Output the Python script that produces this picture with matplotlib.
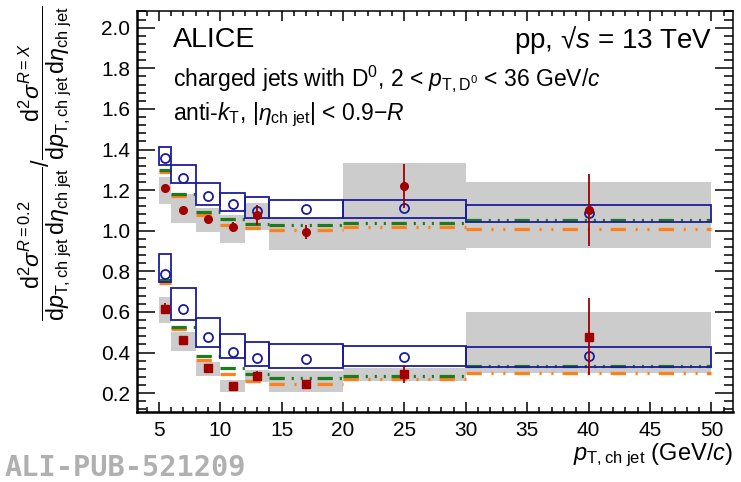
import numpy as np
import matplotlib
matplotlib.use('Agg')
import matplotlib.pyplot as plt
from matplotlib.patches import Rectangle
from matplotlib.ticker import MultipleLocator

plt.rcParams['font.family'] = ['Liberation Sans', 'DejaVu Sans']
plt.rcParams['mathtext.fontset'] = 'custom'
plt.rcParams['mathtext.rm'] = 'Liberation Sans'
plt.rcParams['mathtext.it'] = 'Liberation Sans:italic'
plt.rcParams['mathtext.bf'] = 'Liberation Sans:bold'
plt.rcParams['lines.scale_dashes'] = False

# bins in p_T,ch jet
bin_lo = [5, 6, 8, 10, 12, 14, 20, 30]
bin_hi = [6, 8, 10, 12, 14, 20, 30, 50]
pt = [5.5, 7, 9, 11, 13, 17, 25, 40]

# upper set (circles)
data_up = [1.209, 1.102, 1.058, 1.020, 1.078, 0.993, 1.221, 1.102]
stat_up = [0.02, 0.01, 0.02, 0.025, 0.05, 0.035, 0.11, 0.175]
sys_up_lo = [1.132, 1.037, 0.996, 0.941, 1.004, 0.905, 0.905, 0.914]
sys_up_hi = [1.266, 1.180, 1.111, 1.078, 1.138, 1.062, 1.335, 1.242]
pythia_up = [1.360, 1.258, 1.173, 1.132, 1.099, 1.106, 1.111, 1.089]
pythia_up_lo = [1.324, 1.234, 1.127, 1.098, 1.062, 1.062, 1.062, 1.045]
pythia_up_hi = [1.411, 1.324, 1.234, 1.188, 1.165, 1.152, 1.152, 1.127]
green_up = [1.299, 1.180, 1.094, 1.058, 1.034, 1.029, 1.040, 1.053]
orange_up = [1.288, 1.170, 1.078, 1.029, 1.015, 1.004, 1.020, 1.007]

# lower set (squares)
data_lo = [0.615, 0.462, 0.323, 0.236, 0.285, 0.244, 0.295, 0.479]
stat_lo = [0.027, 0.01, 0.008, 0.008, 0.025, 0.012, 0.045, 0.19]
sys_lo_lo = [0.545, 0.408, 0.285, 0.208, 0.255, 0.205, 0.258, 0.300]
sys_lo_hi = [0.673, 0.503, 0.353, 0.265, 0.315, 0.310, 0.325, 0.598]
pythia_lo = [0.786, 0.615, 0.479, 0.405, 0.372, 0.367, 0.377, 0.385]
pythia_lo_lo = [0.749, 0.561, 0.429, 0.372, 0.334, 0.323, 0.336, 0.331]
pythia_lo_hi = [0.886, 0.720, 0.569, 0.492, 0.454, 0.441, 0.434, 0.426]
green_lo = [0.758, 0.525, 0.385, 0.323, 0.293, 0.274, 0.287, 0.334]
orange_lo = [0.745, 0.515, 0.364, 0.293, 0.260, 0.244, 0.270, 0.301]

RED = '#a00000'
BLUE = '#1c1c9c'
GREEN = '#1e7a1e'
ORANGE = '#ff7f1a'
GRAY = '#cccccc'

green_ls = (0, (11, 5, 1.5, 5, 1.5, 5, 1.5, 4.1))
orange_ls = (0, (11, 7, 1.5, 7, 1.5, 6.6))

fig = plt.figure(figsize=(7.41, 4.82), dpi=100)
ax = fig.add_axes([137/741, (482-412.3)/482, (733-137)/741, (412.3-11)/482])

for d, s, slo, shi, py, plo, phi, g, o, mk in [
        (data_up, stat_up, sys_up_lo, sys_up_hi, pythia_up, pythia_up_lo, pythia_up_hi, green_up, orange_up, 'o'),
        (data_lo, stat_lo, sys_lo_lo, sys_lo_hi, pythia_lo, pythia_lo_lo, pythia_lo_hi, green_lo, orange_lo, 's')]:
    for i in range(len(pt)):
        w = bin_hi[i] - bin_lo[i]
        ax.add_patch(Rectangle((bin_lo[i], slo[i]), w, shi[i] - slo[i],
                               facecolor=GRAY, edgecolor='none', zorder=1))
    ax.hlines(o, bin_lo, bin_hi, colors=ORANGE, linewidth=2.3, linestyles=[orange_ls], zorder=2)
    ax.hlines(g, bin_lo, bin_hi, colors=GREEN, linewidth=2.3, linestyles=[green_ls], zorder=3)
    for i in range(len(pt)):
        w = bin_hi[i] - bin_lo[i]
        ax.add_patch(Rectangle((bin_lo[i], plo[i]), w, phi[i] - plo[i],
                               facecolor='none', edgecolor=BLUE, linewidth=1.3, zorder=4))
    ax.plot(pt, py, linestyle='none', marker='o', markersize=6.5, markerfacecolor='none',
            markeredgecolor=BLUE, markeredgewidth=1.3, zorder=5)
    ax.errorbar(pt, d, yerr=s, fmt=mk, color=RED, markersize=5.5 if mk == 'o' else 5.2,
                elinewidth=1.3, capsize=0, zorder=6)

ax.set_xlim(3.22, 51.76)
ax.set_ylim(0.106, 2.082)
ax.set_xticks([5, 10, 15, 20, 25, 30, 35, 40, 45, 50])
ax.set_yticks(np.arange(0.2, 2.01, 0.2))
ax.xaxis.set_minor_locator(MultipleLocator(1))
ax.yaxis.set_minor_locator(MultipleLocator(0.04))
ax.yaxis.set_major_formatter(matplotlib.ticker.FormatStrFormatter('%.1f'))
ax.tick_params(which='both', direction='in', top=True, right=True, labelsize=15, width=1.1)
ax.tick_params(axis='y', which='major', length=13, pad=5)
ax.tick_params(axis='y', which='minor', length=6.5)
ax.tick_params(axis='x', which='major', length=7.2, pad=6)
ax.tick_params(axis='x', which='minor', length=3.4)
for sp in ax.spines.values():
    sp.set_linewidth(1.1)
ax.spines['left'].set_linewidth(1.8)
ax.spines['bottom'].set_linewidth(1.8)

# annotations
ax.text(0.06, 0.928, 'ALICE', transform=ax.transAxes, fontsize=20.5, va='center', ha='left')
ax.text(0.965, 0.928, 'pp, \u221a$s$ = 13 TeV', transform=ax.transAxes, fontsize=20,
        va='center', ha='right')
ax.text(0.06, 0.833, r'charged jets with D$^0$, 2 < $p_{\mathrm{T,D^0}}$ < 36 GeV/$c$',
        transform=ax.transAxes, fontsize=16.5, va='center', ha='left')
ax.text(0.06, 0.741, r'anti-$k_{\mathrm{T}}$, |$\eta_{\mathrm{ch\ jet}}$| < 0.9$-$$R$',
        transform=ax.transAxes, fontsize=16.5, va='center', ha='left')

fig.text(733/741, 1 - 455/482, r'$p_{\mathrm{T,ch\ jet}}$ (GeV/$c$)', fontsize=17,
         ha='right', va='center')

ylab = (r'$\dfrac{\mathrm{d}^2\sigma^{R=0.2}}{\mathrm{d}p_{\mathrm{T,ch\ jet}}\,\mathrm{d}\eta_{\mathrm{ch\ jet}}}'
        r'/\dfrac{\mathrm{d}^2\sigma^{R=X}}{\mathrm{d}p_{\mathrm{T,ch\ jet}}\,\mathrm{d}\eta_{\mathrm{ch\ jet}}}$')
fig.text(45/741, 1 - 163/482, ylab, rotation=90, fontsize=16.8, ha='center', va='center')

fig.text(5/741, 1 - 468/482, 'ALI-PUB-521209', fontsize=20.6, color='#b0b0b0',
         family='DejaVu Sans Mono', weight='bold', ha='left', va='center')

fig.savefig('out.png', dpi=100)
